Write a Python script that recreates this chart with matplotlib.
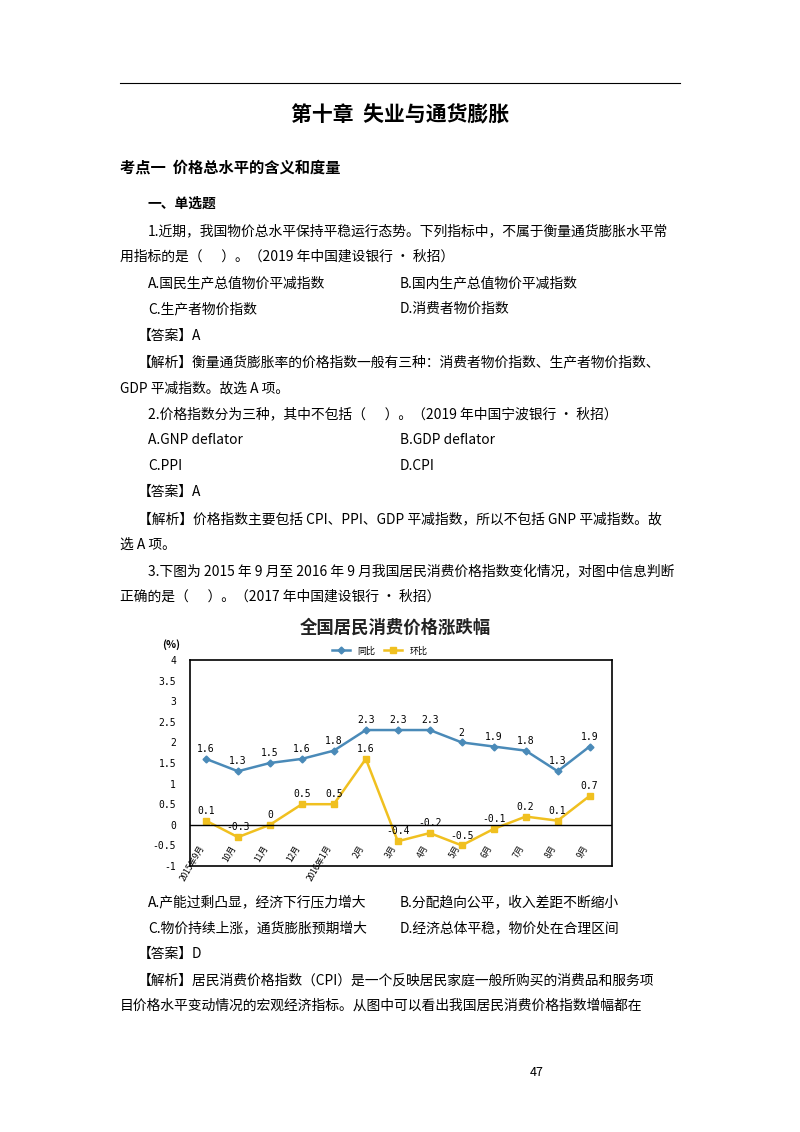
import matplotlib
matplotlib.use("Agg")
import matplotlib.pyplot as plt

plt.rcParams['font.family'] = ['Noto Sans CJK SC', 'DejaVu Sans']

months = ['2015年9月', '10月', '11月', '12月', '2016年1月', '2月', '3月', '4月', '5月', '6月', '7月', '8月', '9月']
yoy = [1.6, 1.3, 1.5, 1.6, 1.8, 2.3, 2.3, 2.3, 2.0, 1.9, 1.8, 1.3, 1.9]
mom = [0.1, -0.3, 0, 0.5, 0.5, 1.6, -0.4, -0.2, -0.5, -0.1, 0.2, 0.1, 0.7]
yticks = [-1, -0.5, 0, 0.5, 1, 1.5, 2, 2.5, 3, 3.5, 4]

W, H = 800, 1132
fig = plt.figure(figsize=(8, 11.32), dpi=100)
page = fig.add_axes([0, 0, 1, 1])
page.set_xlim(0, W); page.set_ylim(H, 0); page.axis('off')

page.plot([120, 680], [83, 83], color='black', lw=0.8)
fs = 9.95
def t(x, y, s, **kw):
    kw.setdefault('fontsize', fs)
    page.text(x, y, s, va='center', **kw)

t(400, 115, '第十章  失业与通货膨胀', ha='center', fontsize=15, fontweight='bold')
t(120, 168, '考点一  价格总水平的含义和度量', fontsize=11, fontweight='bold')
t(148, 204, '一、单选题', fontweight='bold')
t(148, 231, '1.近期，我国物价总水平保持平稳运行态势。下列指标中，不属于衡量通货膨胀水平常')
t(120, 257, '用指标的是（      ）。（2019 年中国建设银行 • 秋招）')
t(148, 283, 'A.国民生产总值物价平减指数'); t(400, 283, 'B.国内生产总值物价平减指数')
t(148, 309, 'C.生产者物价指数'); t(400, 309, 'D.消费者物价指数')
t(138, 336, '【答案】A')
t(138, 362, '【解析】衡量通货膨胀率的价格指数一般有三种：消费者物价指数、生产者物价指数、')
t(120, 388, 'GDP 平减指数。故选 A 项。')
t(148, 414, '2.价格指数分为三种，其中不包括（      ）。（2019 年中国宁波银行 • 秋招）')
t(148, 440, 'A.GNP deflator'); t(400, 440, 'B.GDP deflator')
t(148, 466, 'C.PPI'); t(400, 466, 'D.CPI')
t(138, 492, '【答案】A')
t(138, 519, '【解析】价格指数主要包括 CPI、PPI、GDP 平减指数，所以不包括 GNP 平减指数。故')
t(120, 545, '选 A 项。')
t(148, 571, '3.下图为 2015 年 9 月至 2016 年 9 月我国居民消费价格指数变化情况，对图中信息判断')
t(120, 597, '正确的是（      ）。（2017 年中国建设银行 • 秋招）')
t(148, 902, 'A.产能过剩凸显，经济下行压力增大'); t(400, 902, 'B.分配趋向公平，收入差距不断缩小')
t(148, 928, 'C.物价持续上涨，通货膨胀预期增大'); t(400, 928, 'D.经济总体平稳，物价处在合理区间')
t(138, 954, '【答案】D')
t(138, 980, '【解析】居民消费价格指数（CPI）是一个反映居民家庭一般所购买的消费品和服务项')
t(120, 1006, '目价格水平变动情况的宏观经济指标。从图中可以看出我国居民消费价格指数增幅都在')
t(537, 1073, '47', ha='center', fontsize=9)

# chart
t(395, 628, '全国居民消费价格涨跌幅', ha='center', fontsize=12.5, fontweight='bold', color='#222222')
t(162, 645, '(%)', fontsize=7.5, fontweight='bold')

ax = fig.add_axes([190/W, 1-866/H, (612-190)/W, (866-660)/H])
x = range(len(months))
blue = '#4a8ab8'; yel = '#f0c020'
ax.plot(x, yoy, color=blue, marker='D', ms=3.5, lw=1.8, label='同比')
ax.plot(x, mom, color=yel, marker='s', ms=5, lw=1.8, label='环比')
ax.axhline(0, color='black', lw=1)
for i, (a, b) in enumerate(zip(yoy, mom)):
    ax.text(i, a + 0.24, f'{a:g}', ha='center', va='center', fontsize=7, family='DejaVu Sans Mono')
    ax.text(i, b + 0.24, f'{b:g}', ha='center', va='center', fontsize=7, family='DejaVu Sans Mono')
ax.set_xlim(-0.5, len(months) - 0.3)
ax.set_ylim(-1, 4)
ax.set_yticks(yticks)
ax.set_yticklabels([f'{v:g}' for v in yticks], fontsize=7, family='DejaVu Sans Mono')
ax.set_xticks(list(x))
ax.set_xticklabels(months, rotation=60, fontsize=6, ha='right')
ax.tick_params(axis='x', length=0, pad=-16)
ax.tick_params(axis='y', length=0, pad=10)
for s in ax.spines.values():
    s.set_linewidth(1.2)
ax.legend(loc='lower center', bbox_to_anchor=(0.45, 1.0), ncol=2, frameon=False, fontsize=6.5,
          handlelength=2, columnspacing=1, borderaxespad=0.1)

fig.savefig('out.png', dpi=100)
